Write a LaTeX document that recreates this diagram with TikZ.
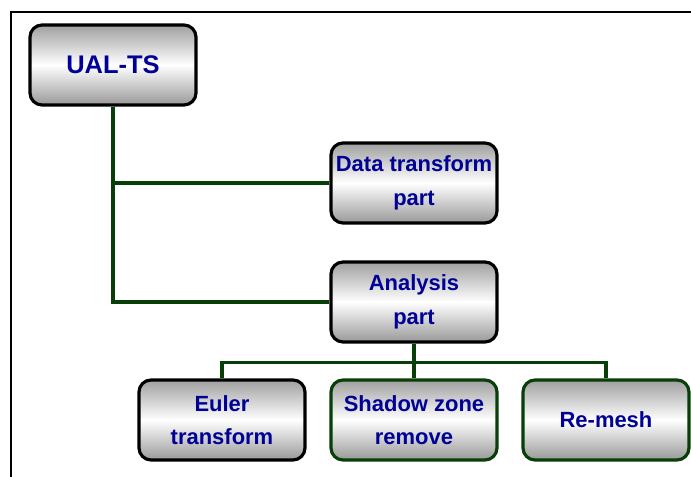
\documentclass[tikz,border=0pt]{standalone}
\usepackage{fontspec}
\setmainfont{Liberation Sans}
\usetikzlibrary{calc}
\definecolor{navytext}{RGB}{0,0,150}
\definecolor{darkgreen}{RGB}{8,62,8}
\begin{document}
\begin{tikzpicture}[
    box/.style={rounded corners=0.24cm,draw=black,line width=1.8pt,
        top color=gray!75,bottom color=gray!80,middle color=white,
        minimum width=3.32cm,minimum height=1.6cm,inner sep=0pt,
        align=center,text=navytext,font=\bfseries\fontsize{12.5}{19}\selectfont},
    greenbox/.style={box,draw=darkgreen},
    link/.style={draw=darkgreen,line width=1.8pt}
]
\useasboundingbox (0,0) rectangle (13.82,-9.54);
% frame
\draw[line width=1.6pt] (0.22,-9.54) -- (0.22,-0.24) -- (13.82,-0.24);

\node[box,font=\bfseries\fontsize{14.5}{17}\selectfont] (ual) at (2.26,-1.30) {UAL-TS};
\node[box]      (data)   at (8.28,-3.66)  {Data transform\\part};
\node[box]      (ana)    at (8.28,-6.04)  {Analysis\\part};
\node[box]      (euler)  at (4.44,-8.40)  {Euler\\transform};
\node[greenbox] (shadow) at (8.28,-8.40)  {Shadow zone\\remove};
\node[greenbox] (remesh) at (12.12,-8.40) {Re-mesh};

\draw[link] (ual.south) |- (data.west);
\draw[link] (ual.south) |- (ana.west);
\coordinate (bus) at ($(ana.south)+(0,-0.38)$);
\draw[link] (ana.south) -- (bus);
\draw[link] (bus) -| (euler.north);
\draw[link] (bus) -| (remesh.north);
\draw[link] (bus) -- (shadow.north);
\end{tikzpicture}
\end{document}
